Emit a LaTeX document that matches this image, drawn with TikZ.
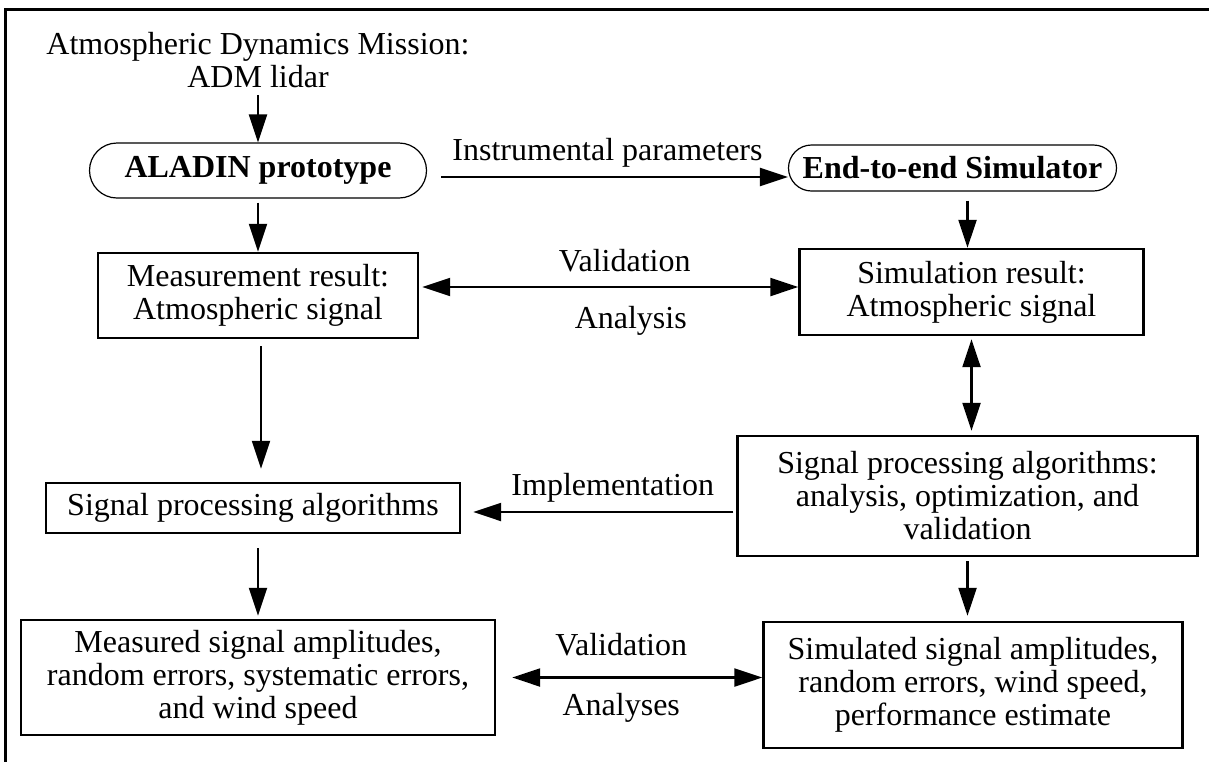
\documentclass[tikz,border=0pt]{standalone}
\usepackage{fontspec}
\setmainfont{Liberation Serif}
\usepackage{tikz}
\usetikzlibrary{positioning,arrows.meta}
\tikzset{line/.style={draw, line width=1.1pt, -{Triangle[length=14pt,width=9pt]}}}
\tikzset{dline/.style={draw, line width=1.1pt, {Triangle[length=14pt,width=9pt]}-{Triangle[length=14pt,width=9pt]}}}

\begin{document}
\begin{tikzpicture}[font=\fontsize{16pt}{16.5pt}\selectfont,
  box/.style = {draw, line width=1.2pt, align=center, inner sep=2pt},
  pill/.style = {draw, line width=0.6pt, rounded corners=#1, inner sep=2pt, font=\fontsize{16pt}{16.5pt}\selectfont\bfseries}]
\useasboundingbox (0,0) rectangle (604.5pt,-381pt);
\draw[line width=1.5pt] (604.5pt,-4.5pt) -- (2.5pt,-4.5pt) -- (2.5pt,-381pt);
% left column
\node[align=center] (adm) at (129pt,-30pt) {Atmospheric Dynamics Mission:\\ADM lidar};
\node[pill=13.75pt, minimum width=168.5pt, minimum height=27.5pt] (aladin) [below of=adm, node distance=55.25pt] {ALADIN prototype};
\node[box, minimum width=160pt, minimum height=42.5pt] (measres) [below of=aladin, node distance=62.5pt] {Measurement result:\\Atmospheric signal};
\node[box, minimum width=207pt, minimum height=25pt] (lspa) [below of=measres, node distance=106.25pt, xshift=-2.5pt] {Signal processing algorithms};
\node[box, minimum width=237pt, minimum height=57.5pt] (measured) [below of=lspa, node distance=84.75pt, xshift=2.5pt] {Measured signal amplitudes,\\random errors, systematic errors,\\and wind speed};
% right column
\node[pill=11.5pt, minimum width=164pt, minimum height=23pt] (endsim) [right of=aladin, node distance=347.25pt, yshift=1.25pt] {End-to-end Simulator};
\node[box, minimum width=172pt, minimum height=43pt] (simres) [below of=endsim, node distance=62pt, xshift=9.5pt] {Simulation result:\\Atmospheric signal};
\node[box, minimum width=230pt, minimum height=60pt] (rspa) [below of=simres, node distance=102pt, xshift=-2pt] {Signal processing algorithms:\\analysis, optimization, and\\validation};
\node[box, minimum width=209.5pt, minimum height=63pt] (simulated) [below of=rspa, node distance=94.5pt, xshift=2.75pt] {Simulated signal amplitudes,\\random errors, wind speed,\\performance estimate};
% vertical arrows
\draw[line] (aladin.north |- adm.south) -- (aladin.north);
\draw[line, shorten <=2pt] (aladin.south) -- (aladin.south |- measres.north);
\draw[line, shorten <=3.5pt, shorten >=6.5pt] ([xshift=1.5pt]measres.south) -- ([xshift=1.5pt]measres.south |- lspa.north);
\draw[line, shorten <=7pt, shorten >=1.5pt] (measured.north |- lspa.south) -- (measured.north);
\draw[line, shorten <=4.5pt] ([xshift=-2pt]simres.north |- endsim.south) -- ([xshift=-2pt]simres.north);
\draw[dline, shorten <=1.5pt, shorten >=2pt] (simres.south) -- (simres.south |- rspa.north);
\draw[line, shorten <=2pt, shorten >=2.5pt] (rspa.south) -- (rspa.south |- simulated.north);
% horizontal arrows
\draw[line, shorten <=7pt] ([yshift=-3.25pt]aladin.east) -- ([yshift=-3.25pt]aladin.east -| endsim.west)
  node[midway, above=1pt] {Instrumental parameters};
\draw[dline, shorten <=1.5pt] ([yshift=4.25pt]measres.east) -- ([yshift=4.25pt]measres.east -| simres.west)
  node[midway, above=3.7pt, xshift=8pt] {Validation}
  node[midway, below=5.7pt, xshift=11pt] {Analysis};
\draw[line, shorten <=1.5pt, shorten >=6pt] ([yshift=-8pt]rspa.west) -- ([yshift=-8pt]rspa.west -| lspa.east)
  node[midway, above=1pt, xshift=7pt] {Implementation};
\draw[dline, shorten <=8pt] (measured.east) -- (measured.east -| simulated.west)
  node[midway, above=6.7pt, xshift=-4pt] {Validation}
  node[midway, below=4pt, xshift=-4pt] {Analyses};
\end{tikzpicture}
\end{document}
